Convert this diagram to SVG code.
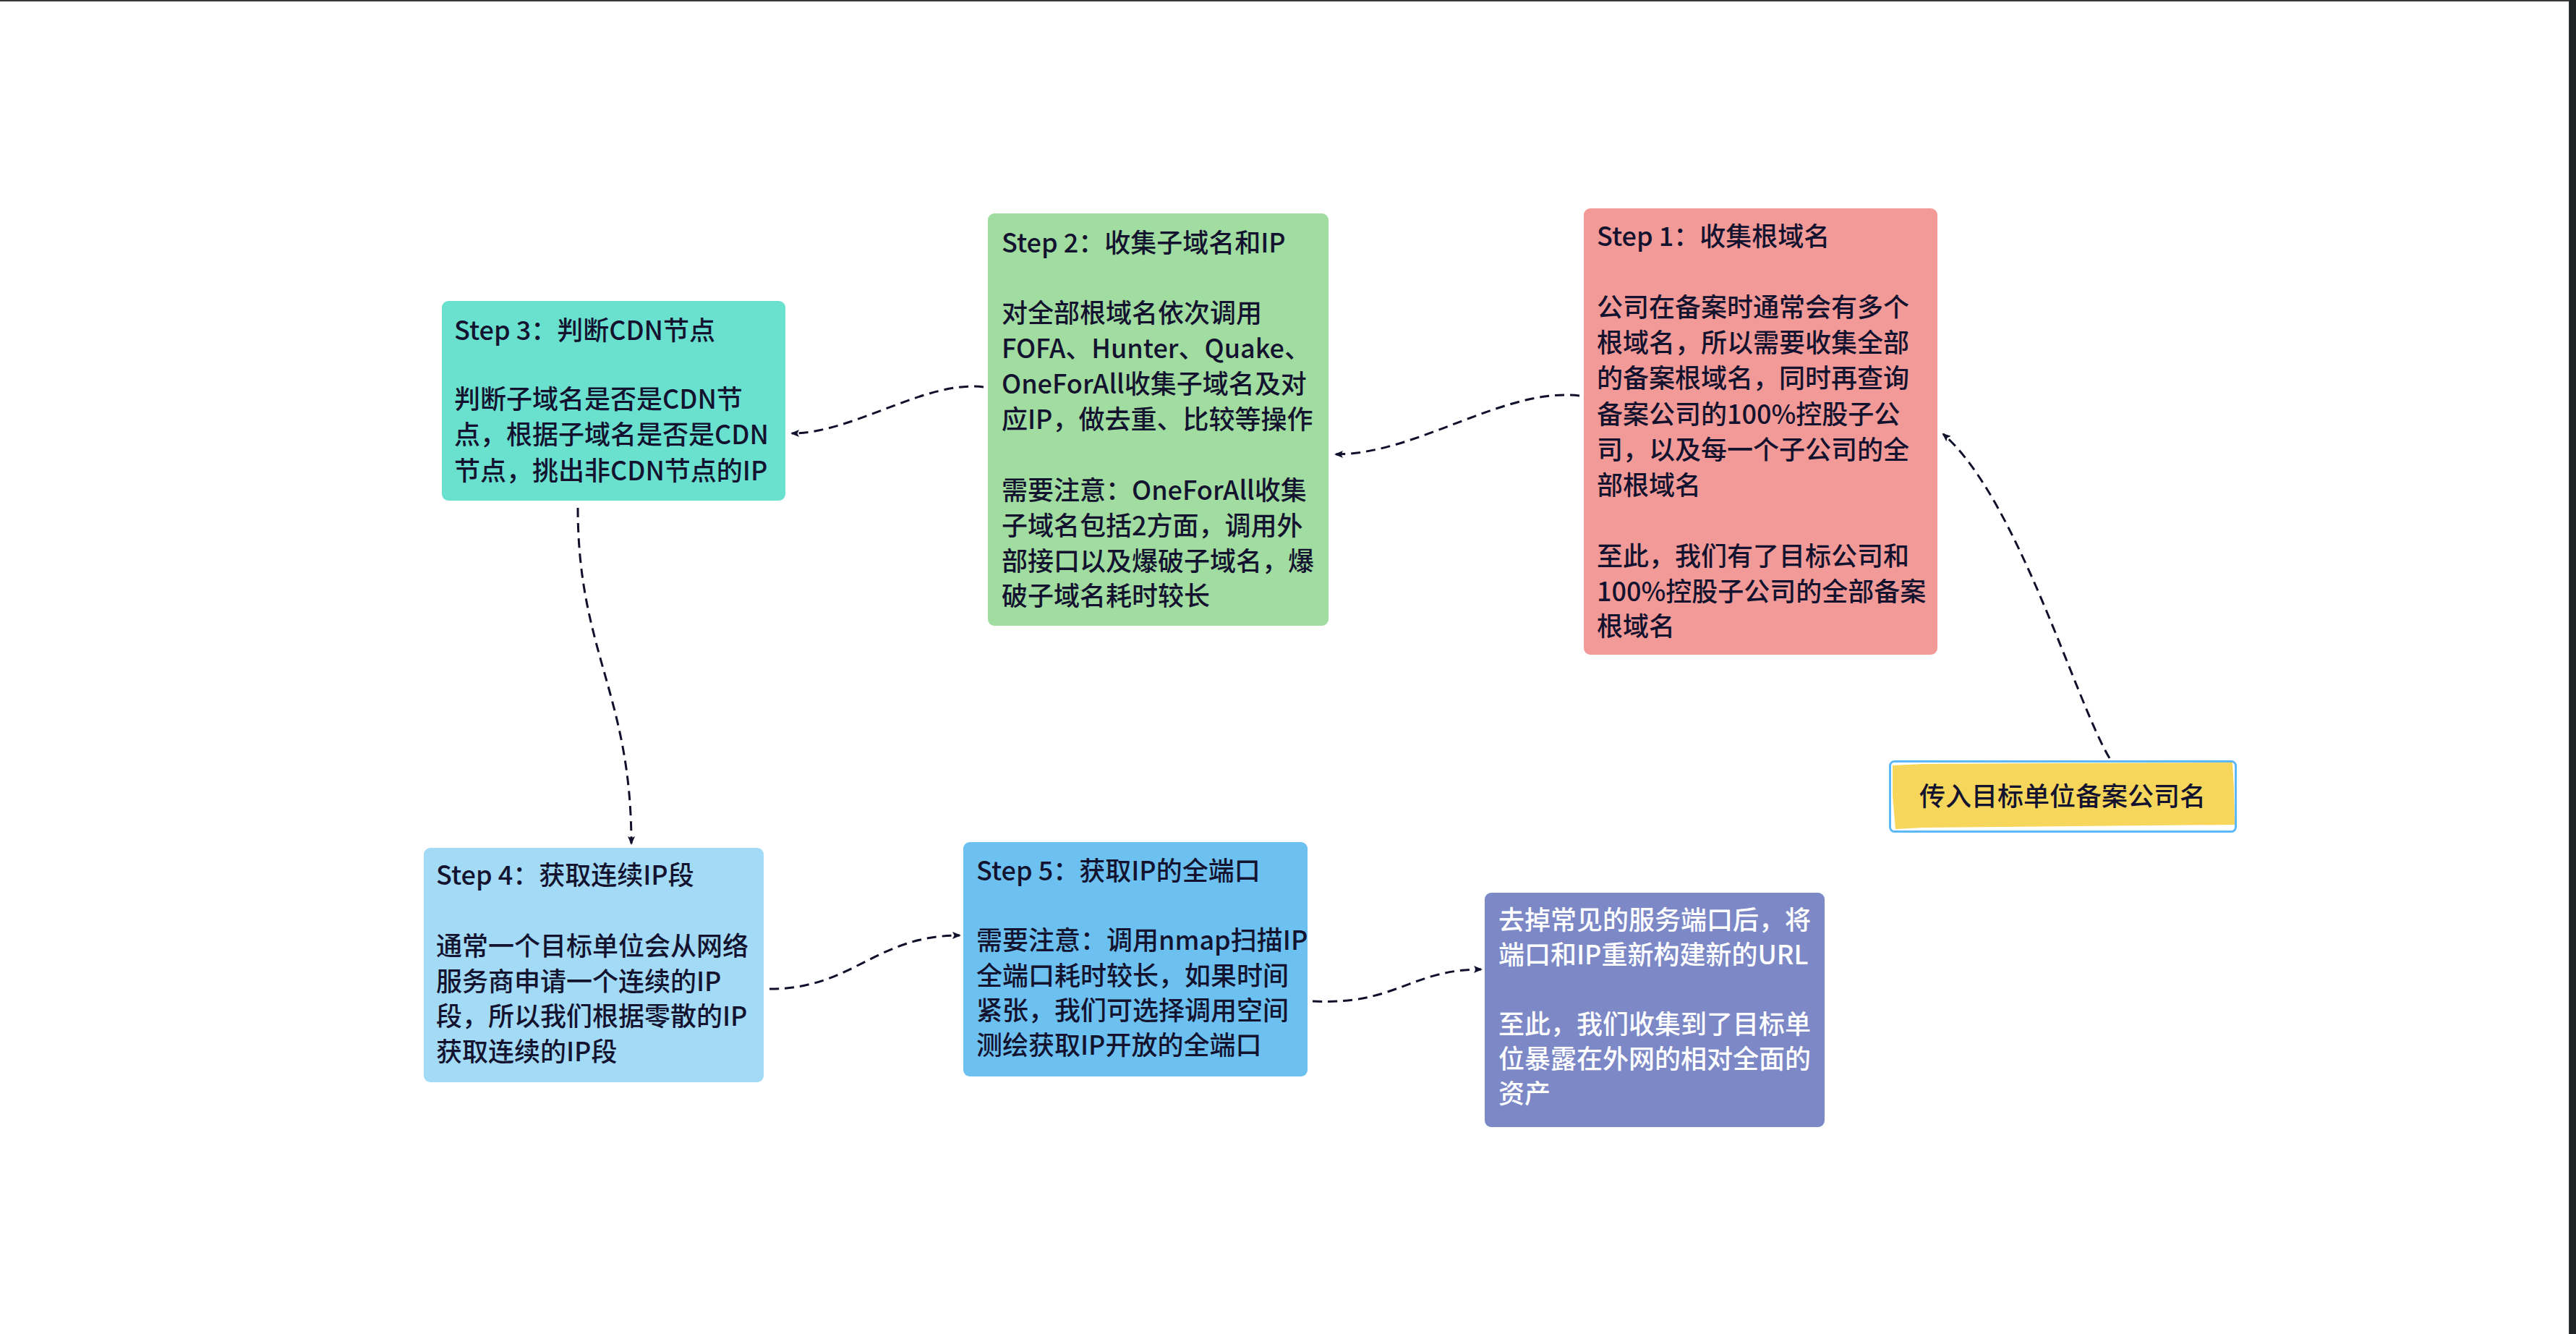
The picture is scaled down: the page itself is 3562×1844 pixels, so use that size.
<svg xmlns="http://www.w3.org/2000/svg" width="3562" height="1844" viewBox="0 0 3562 1844">
<style>
.t{font-family:"Noto Sans CJK SC","Noto Sans",sans-serif;font-size:36px;font-weight:500;fill:#13132f}
.w{fill:#ffffff}
.c{fill:none;stroke:#10102c;stroke-width:3;stroke-dasharray:13 8;marker-end:url(#ah)}
</style>
<defs>
<marker id="ah" viewBox="0 0 12 10" refX="10" refY="5" markerWidth="12" markerHeight="10" markerUnits="userSpaceOnUse" orient="auto">
<path d="M0,0 L12,5 L0,10 L2.5,5 Z" fill="#10102c"/>
</marker>
</defs>
<rect x="0" y="0" width="3562" height="1844" fill="#ffffff"/>
<rect x="0" y="0" width="3562" height="2" fill="#383838"/>
<rect x="3552" y="0" width="10" height="1844" fill="#202124"/>
<rect x="3552" y="0" width="1" height="1844" fill="#3c3c3c"/>

<g id="connectors">
<path class="c" d="M2917,1048 C2870,970 2790,690 2687,600"/>
<path class="c" d="M2184,547 C2080,535 1960,628 1847,628"/>
<path class="c" d="M1360,535 C1280,525 1180,599 1095,599"/>
<path class="c" d="M799,702 C799,900 873,960 873,1166"/>
<path class="c" d="M1064,1367 C1180,1367 1210,1293 1327,1293"/>
<path class="c" d="M1815,1384 C1930,1390 1950,1340 2048,1340"/>
</g>

<g id="start">
<rect x="2613.5" y="1052.5" width="478" height="97" rx="6" fill="#ffffff" stroke="#5cb8f7" stroke-width="3"/>
<path d="M2617,1058 L2660,1056 L3087,1054 L3089,1090 L3090,1140 L2660,1144 L2621,1146 L2617,1100 Z" fill="#f6d65b"/>
<text class="t" x="2852" y="1114" text-anchor="middle">传入目标单位备案公司名</text>
</g>

<g id="step1">
<rect x="2190" y="288" width="489" height="617" rx="9" fill="#f29a97"/>
<text class="t">
<tspan x="2208" y="340">Step 1：收集根域名</tspan>
<tspan x="2208" y="438">公司在备案时通常会有多个</tspan>
<tspan x="2208" y="487">根域名，所以需要收集全部</tspan>
<tspan x="2208" y="536">的备案根域名，同时再查询</tspan>
<tspan x="2208" y="586">备案公司的100%控股子公</tspan>
<tspan x="2208" y="635">司，以及每一个子公司的全</tspan>
<tspan x="2208" y="684">部根域名</tspan>
<tspan x="2208" y="782">至此，我们有了目标公司和</tspan>
<tspan x="2208" y="831">100%控股子公司的全部备案</tspan>
<tspan x="2208" y="879">根域名</tspan>
</text>
</g>

<g id="step2">
<rect x="1366" y="295" width="471" height="570" rx="9" fill="#a1dca1"/>
<text class="t">
<tspan x="1385" y="349">Step 2：收集子域名和IP</tspan>
<tspan x="1385" y="446">对全部根域名依次调用</tspan>
<tspan x="1385" y="495">FOFA、Hunter、Quake、</tspan>
<tspan x="1385" y="544">OneForAll收集子域名及对</tspan>
<tspan x="1385" y="593">应IP，做去重、比较等操作</tspan>
<tspan x="1385" y="691">需要注意：OneForAll收集</tspan>
<tspan x="1385" y="740">子域名包括2方面，调用外</tspan>
<tspan x="1385" y="789">部接口以及爆破子域名，爆</tspan>
<tspan x="1385" y="837">破子域名耗时较长</tspan>
</text>
</g>

<g id="step3">
<rect x="611" y="416" width="475" height="276" rx="9" fill="#6ae1cf"/>
<text class="t">
<tspan x="628" y="470">Step 3：判断CDN节点</tspan>
<tspan x="628" y="565">判断子域名是否是CDN节</tspan>
<tspan x="628" y="614">点，根据子域名是否是CDN</tspan>
<tspan x="628" y="664">节点，挑出非CDN节点的IP</tspan>
</text>
</g>

<g id="step4">
<rect x="586" y="1172" width="470" height="324" rx="9" fill="#a3daf6"/>
<text class="t">
<tspan x="603" y="1223">Step 4：获取连续IP段</tspan>
<tspan x="603" y="1321">通常一个目标单位会从网络</tspan>
<tspan x="603" y="1370">服务商申请一个连续的IP</tspan>
<tspan x="603" y="1418">段，所以我们根据零散的IP</tspan>
<tspan x="603" y="1467">获取连续的IP段</tspan>
</text>
</g>

<g id="step5">
<rect x="1332" y="1164" width="476" height="324" rx="9" fill="#6dc1f1"/>
<text class="t">
<tspan x="1350" y="1217">Step 5：获取IP的全端口</tspan>
<tspan x="1350" y="1313">需要注意：调用nmap扫描IP</tspan>
<tspan x="1350" y="1362">全端口耗时较长，如果时间</tspan>
<tspan x="1350" y="1410">紧张，我们可选择调用空间</tspan>
<tspan x="1350" y="1458">测绘获取IP开放的全端口</tspan>
</text>
</g>

<g id="step6">
<rect x="2053" y="1234" width="470" height="324" rx="9" fill="#7d89c7"/>
<text class="t w">
<tspan x="2072" y="1285">去掉常见的服务端口后，将</tspan>
<tspan x="2072" y="1333">端口和IP重新构建新的URL</tspan>
<tspan x="2072" y="1429">至此，我们收集到了目标单</tspan>
<tspan x="2072" y="1477">位暴露在外网的相对全面的</tspan>
<tspan x="2072" y="1525">资产</tspan>
</text>
</g>
</svg>
